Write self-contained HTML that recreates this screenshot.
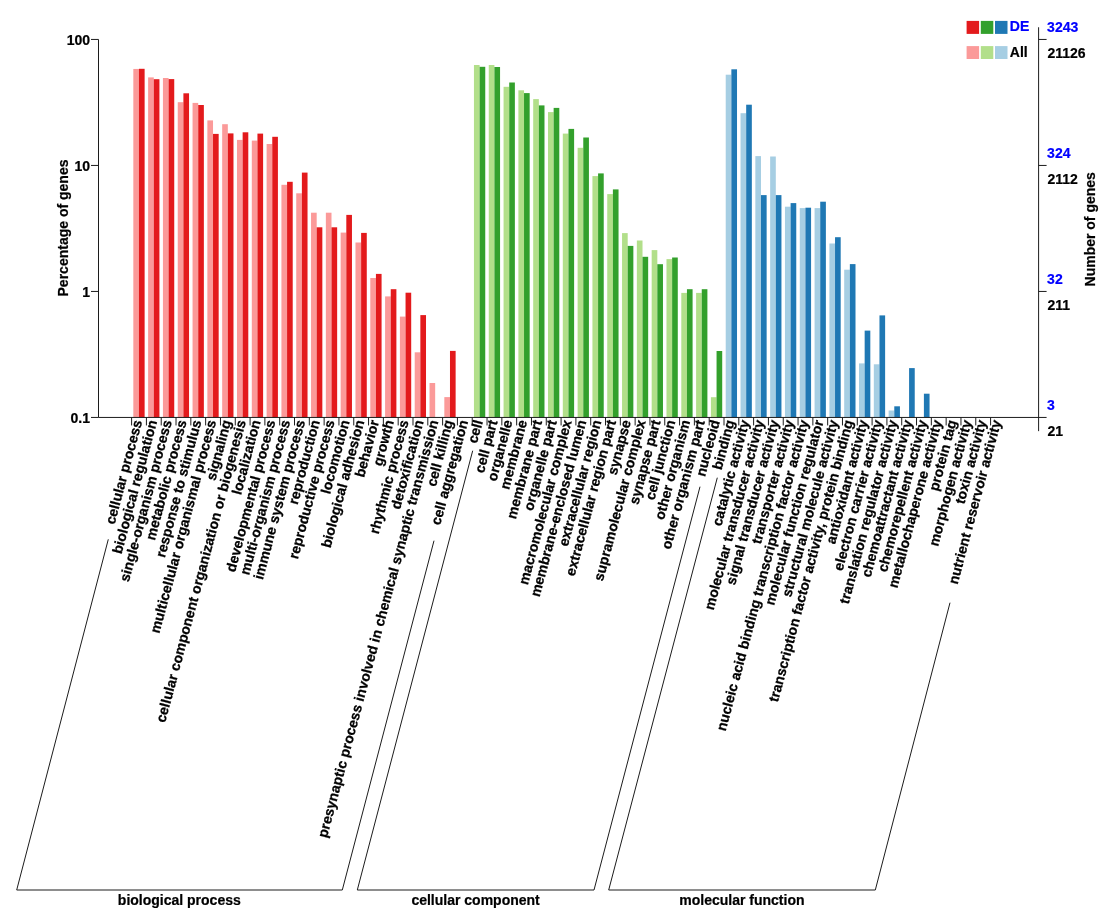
<!DOCTYPE html>
<html lang="en"><head><meta charset="utf-8"><title>GO classification</title>
<style>html,body{margin:0;padding:0;background:#fff}body{width:1109px;height:920px;overflow:hidden}svg{display:block}text{stroke:#000;stroke-width:.22px;stroke-linejoin:round}text.r{stroke-width:.28px}text.b{fill:#0000FF;stroke:#0000FF}</style>
</head><body>
<svg width="1109" height="920" viewBox="0 0 1109 920" font-family="'Liberation Sans', sans-serif" font-weight="bold" font-size="14px" style="paint-order:stroke">
<rect width="1109" height="920" fill="#fff"/>
<g shape-rendering="auto">
<rect x="133.32" y="68.95" width="5.65" height="348.50" fill="#FB9A99"/>
<rect x="138.97" y="68.80" width="5.65" height="348.65" fill="#E31A1C"/>
<rect x="148.13" y="77.40" width="5.65" height="340.05" fill="#FB9A99"/>
<rect x="153.78" y="79.20" width="5.65" height="338.25" fill="#E31A1C"/>
<rect x="162.94" y="78.00" width="5.65" height="339.45" fill="#FB9A99"/>
<rect x="168.59" y="79.10" width="5.65" height="338.35" fill="#E31A1C"/>
<rect x="177.75" y="102.20" width="5.65" height="315.25" fill="#FB9A99"/>
<rect x="183.40" y="93.30" width="5.65" height="324.15" fill="#E31A1C"/>
<rect x="192.56" y="102.90" width="5.65" height="314.55" fill="#FB9A99"/>
<rect x="198.21" y="105.00" width="5.65" height="312.45" fill="#E31A1C"/>
<rect x="207.37" y="120.40" width="5.65" height="297.05" fill="#FB9A99"/>
<rect x="213.02" y="133.90" width="5.65" height="283.55" fill="#E31A1C"/>
<rect x="222.18" y="124.20" width="5.65" height="293.25" fill="#FB9A99"/>
<rect x="227.83" y="133.40" width="5.65" height="284.05" fill="#E31A1C"/>
<rect x="236.99" y="139.90" width="5.65" height="277.55" fill="#FB9A99"/>
<rect x="242.64" y="132.30" width="5.65" height="285.15" fill="#E31A1C"/>
<rect x="251.80" y="140.60" width="5.65" height="276.85" fill="#FB9A99"/>
<rect x="257.45" y="133.60" width="5.65" height="283.85" fill="#E31A1C"/>
<rect x="266.61" y="144.00" width="5.65" height="273.45" fill="#FB9A99"/>
<rect x="272.26" y="136.80" width="5.65" height="280.65" fill="#E31A1C"/>
<rect x="281.42" y="184.80" width="5.65" height="232.65" fill="#FB9A99"/>
<rect x="287.07" y="181.80" width="5.65" height="235.65" fill="#E31A1C"/>
<rect x="296.23" y="193.30" width="5.65" height="224.15" fill="#FB9A99"/>
<rect x="301.88" y="172.60" width="5.65" height="244.85" fill="#E31A1C"/>
<rect x="311.04" y="212.70" width="5.65" height="204.75" fill="#FB9A99"/>
<rect x="316.69" y="227.30" width="5.65" height="190.15" fill="#E31A1C"/>
<rect x="325.85" y="212.70" width="5.65" height="204.75" fill="#FB9A99"/>
<rect x="331.50" y="227.30" width="5.65" height="190.15" fill="#E31A1C"/>
<rect x="340.66" y="232.60" width="5.65" height="184.85" fill="#FB9A99"/>
<rect x="346.31" y="214.90" width="5.65" height="202.55" fill="#E31A1C"/>
<rect x="355.47" y="242.50" width="5.65" height="174.95" fill="#FB9A99"/>
<rect x="361.12" y="232.90" width="5.65" height="184.55" fill="#E31A1C"/>
<rect x="370.28" y="278.00" width="5.65" height="139.45" fill="#FB9A99"/>
<rect x="375.93" y="273.90" width="5.65" height="143.55" fill="#E31A1C"/>
<rect x="385.09" y="296.40" width="5.65" height="121.05" fill="#FB9A99"/>
<rect x="390.74" y="289.20" width="5.65" height="128.25" fill="#E31A1C"/>
<rect x="399.90" y="316.60" width="5.65" height="100.85" fill="#FB9A99"/>
<rect x="405.55" y="292.70" width="5.65" height="124.75" fill="#E31A1C"/>
<rect x="414.71" y="352.30" width="5.65" height="65.15" fill="#FB9A99"/>
<rect x="420.36" y="315.10" width="5.65" height="102.35" fill="#E31A1C"/>
<rect x="429.52" y="383.00" width="5.65" height="34.45" fill="#FB9A99"/>
<rect x="444.33" y="397.10" width="5.65" height="20.35" fill="#FB9A99"/>
<rect x="449.98" y="350.90" width="5.65" height="66.55" fill="#E31A1C"/>
<rect x="473.95" y="65.00" width="5.65" height="352.45" fill="#B2DF8A"/>
<rect x="479.60" y="66.80" width="5.65" height="350.65" fill="#33A02C"/>
<rect x="488.76" y="65.00" width="5.65" height="352.45" fill="#B2DF8A"/>
<rect x="494.41" y="67.00" width="5.65" height="350.45" fill="#33A02C"/>
<rect x="503.57" y="86.80" width="5.65" height="330.65" fill="#B2DF8A"/>
<rect x="509.22" y="82.50" width="5.65" height="334.95" fill="#33A02C"/>
<rect x="518.38" y="90.30" width="5.65" height="327.15" fill="#B2DF8A"/>
<rect x="524.03" y="93.10" width="5.65" height="324.35" fill="#33A02C"/>
<rect x="533.19" y="99.10" width="5.65" height="318.35" fill="#B2DF8A"/>
<rect x="538.84" y="105.40" width="5.65" height="312.05" fill="#33A02C"/>
<rect x="548.00" y="112.10" width="5.65" height="305.35" fill="#B2DF8A"/>
<rect x="553.65" y="107.90" width="5.65" height="309.55" fill="#33A02C"/>
<rect x="562.81" y="133.60" width="5.65" height="283.85" fill="#B2DF8A"/>
<rect x="568.46" y="128.90" width="5.65" height="288.55" fill="#33A02C"/>
<rect x="577.62" y="147.80" width="5.65" height="269.65" fill="#B2DF8A"/>
<rect x="583.27" y="137.50" width="5.65" height="279.95" fill="#33A02C"/>
<rect x="592.43" y="176.10" width="5.65" height="241.35" fill="#B2DF8A"/>
<rect x="598.08" y="173.40" width="5.65" height="244.05" fill="#33A02C"/>
<rect x="607.24" y="194.10" width="5.65" height="223.35" fill="#B2DF8A"/>
<rect x="612.89" y="189.40" width="5.65" height="228.05" fill="#33A02C"/>
<rect x="622.05" y="233.10" width="5.65" height="184.35" fill="#B2DF8A"/>
<rect x="627.70" y="245.90" width="5.65" height="171.55" fill="#33A02C"/>
<rect x="636.86" y="240.50" width="5.65" height="176.95" fill="#B2DF8A"/>
<rect x="642.51" y="256.80" width="5.65" height="160.65" fill="#33A02C"/>
<rect x="651.67" y="250.10" width="5.65" height="167.35" fill="#B2DF8A"/>
<rect x="657.32" y="264.20" width="5.65" height="153.25" fill="#33A02C"/>
<rect x="666.48" y="259.10" width="5.65" height="158.35" fill="#B2DF8A"/>
<rect x="672.13" y="257.50" width="5.65" height="159.95" fill="#33A02C"/>
<rect x="681.29" y="292.90" width="5.65" height="124.55" fill="#B2DF8A"/>
<rect x="686.94" y="289.20" width="5.65" height="128.25" fill="#33A02C"/>
<rect x="696.10" y="292.90" width="5.65" height="124.55" fill="#B2DF8A"/>
<rect x="701.75" y="289.20" width="5.65" height="128.25" fill="#33A02C"/>
<rect x="710.91" y="397.20" width="5.65" height="20.25" fill="#B2DF8A"/>
<rect x="716.56" y="351.00" width="5.65" height="66.45" fill="#33A02C"/>
<rect x="725.72" y="74.70" width="5.65" height="342.75" fill="#A6CEE3"/>
<rect x="731.37" y="69.30" width="5.65" height="348.15" fill="#1F78B4"/>
<rect x="740.53" y="113.20" width="5.65" height="304.25" fill="#A6CEE3"/>
<rect x="746.18" y="104.70" width="5.65" height="312.75" fill="#1F78B4"/>
<rect x="755.34" y="156.10" width="5.65" height="261.35" fill="#A6CEE3"/>
<rect x="760.99" y="195.10" width="5.65" height="222.35" fill="#1F78B4"/>
<rect x="770.15" y="156.50" width="5.65" height="260.95" fill="#A6CEE3"/>
<rect x="775.80" y="195.10" width="5.65" height="222.35" fill="#1F78B4"/>
<rect x="784.96" y="206.70" width="5.65" height="210.75" fill="#A6CEE3"/>
<rect x="790.61" y="203.10" width="5.65" height="214.35" fill="#1F78B4"/>
<rect x="799.77" y="208.10" width="5.65" height="209.35" fill="#A6CEE3"/>
<rect x="805.42" y="207.70" width="5.65" height="209.75" fill="#1F78B4"/>
<rect x="814.58" y="208.10" width="5.65" height="209.35" fill="#A6CEE3"/>
<rect x="820.23" y="201.70" width="5.65" height="215.75" fill="#1F78B4"/>
<rect x="829.39" y="243.50" width="5.65" height="173.95" fill="#A6CEE3"/>
<rect x="835.04" y="237.20" width="5.65" height="180.25" fill="#1F78B4"/>
<rect x="844.20" y="269.70" width="5.65" height="147.75" fill="#A6CEE3"/>
<rect x="849.85" y="264.10" width="5.65" height="153.35" fill="#1F78B4"/>
<rect x="859.01" y="363.40" width="5.65" height="54.05" fill="#A6CEE3"/>
<rect x="864.66" y="330.60" width="5.65" height="86.85" fill="#1F78B4"/>
<rect x="873.82" y="364.30" width="5.65" height="53.15" fill="#A6CEE3"/>
<rect x="879.47" y="315.40" width="5.65" height="102.05" fill="#1F78B4"/>
<rect x="888.63" y="410.50" width="5.65" height="6.95" fill="#A6CEE3"/>
<rect x="894.28" y="406.30" width="5.65" height="11.15" fill="#1F78B4"/>
<rect x="909.09" y="368.10" width="5.65" height="49.35" fill="#1F78B4"/>
<rect x="923.90" y="393.70" width="5.65" height="23.75" fill="#1F78B4"/>
</g>
<g stroke="#1c1c1c" stroke-width="1" fill="none">
<path d="M91.00 39.45H98.5V417.45H1046.6"/>
<path d="M91.00 165.45H98.5"/>
<path d="M91.00 291.45H98.5"/>
<path d="M91.00 417.45H98.5"/>
<path d="M1038.6 27.25V431.15"/>
<path d="M1038.6 39.45h8"/>
<path d="M1038.6 165.45h8"/>
<path d="M1038.6 291.45h8"/>
<path d="M131.60 417.45v8M146.41 417.45v8M161.22 417.45v8M176.03 417.45v8M190.84 417.45v8M205.65 417.45v8M220.46 417.45v8M235.27 417.45v8M250.08 417.45v8M264.89 417.45v8M279.70 417.45v8M294.51 417.45v8M309.32 417.45v8M324.13 417.45v8M338.94 417.45v8M353.75 417.45v8M368.56 417.45v8M383.37 417.45v8M398.18 417.45v8M412.99 417.45v8M427.80 417.45v8M442.61 417.45v8M457.42 417.45v8M472.23 417.45v8M487.04 417.45v8M501.85 417.45v8M516.66 417.45v8M531.47 417.45v8M546.28 417.45v8M561.09 417.45v8M575.90 417.45v8M590.71 417.45v8M605.52 417.45v8M620.33 417.45v8M635.14 417.45v8M649.95 417.45v8M664.76 417.45v8M679.57 417.45v8M694.38 417.45v8M709.19 417.45v8M724.00 417.45v8M738.81 417.45v8M753.62 417.45v8M768.43 417.45v8M783.24 417.45v8M798.05 417.45v8M812.86 417.45v8M827.67 417.45v8M842.48 417.45v8M857.29 417.45v8M872.10 417.45v8M886.91 417.45v8M901.72 417.45v8M916.53 417.45v8M931.34 417.45v8M946.15 417.45v8M960.96 417.45v8M975.77 417.45v8M990.58 417.45v8" stroke-width="1"/>
</g>
<text x="90" y="45.05" text-anchor="end">100</text>
<text x="90" y="171.05" text-anchor="end">10</text>
<text x="90" y="297.05" text-anchor="end">1</text>
<text x="90" y="423.05" text-anchor="end">0.1</text>
<text x="1047.1" y="32.05" class="b">3243</text>
<text x="1047.5" y="57.65">21126</text>
<text x="1047.1" y="158.05" class="b">324</text>
<text x="1047.5" y="183.65">2112</text>
<text x="1047.1" y="284.05" class="b">32</text>
<text x="1047.5" y="309.65">211</text>
<text x="1047.1" y="410.05" class="b">3</text>
<text x="1047.5" y="435.65">21</text>
<text transform="translate(67.9,228) rotate(-90)" text-anchor="middle">Percentage of genes</text>
<text transform="translate(1094.6,229.3) rotate(-90)" text-anchor="middle">Number of genes</text>
<rect x="966.60" y="20.9" width="12.5" height="13" fill="#E31A1C"/>
<rect x="966.60" y="46.1" width="12.5" height="12.9" fill="#FB9A99"/>
<rect x="980.80" y="20.9" width="12.5" height="13" fill="#33A02C"/>
<rect x="980.80" y="46.1" width="12.5" height="12.9" fill="#B2DF8A"/>
<rect x="995.00" y="20.9" width="12.5" height="13" fill="#1F78B4"/>
<rect x="995.00" y="46.1" width="12.5" height="12.9" fill="#A6CEE3"/>
<text x="1009.8" y="30.8" class="b">DE</text>
<text x="1009.8" y="56.5">All</text>
<text transform="translate(142.30,421.35) rotate(-75.0)" text-anchor="end" letter-spacing="0.05" class="r">cellular process</text>
<text transform="translate(157.11,421.35) rotate(-75.0)" text-anchor="end" letter-spacing="0.05" class="r">biological regulation</text>
<text transform="translate(171.92,421.35) rotate(-75.0)" text-anchor="end" letter-spacing="0.05" class="r">single-organism process</text>
<text transform="translate(186.73,421.35) rotate(-75.0)" text-anchor="end" letter-spacing="0.05" class="r">metabolic process</text>
<text transform="translate(201.54,421.35) rotate(-75.0)" text-anchor="end" letter-spacing="0.05" class="r">response to stimulus</text>
<text transform="translate(216.35,421.35) rotate(-75.0)" text-anchor="end" letter-spacing="0.05" class="r">multicellular organismal process</text>
<text transform="translate(231.16,421.35) rotate(-75.0)" text-anchor="end" letter-spacing="0.05" class="r">signaling</text>
<text transform="translate(245.97,421.35) rotate(-75.0)" text-anchor="end" letter-spacing="0.05" class="r">cellular component organization or biogenesis</text>
<text transform="translate(260.78,421.35) rotate(-75.0)" text-anchor="end" letter-spacing="0.05" class="r">localization</text>
<text transform="translate(275.59,421.35) rotate(-75.0)" text-anchor="end" letter-spacing="0.05" class="r">developmental process</text>
<text transform="translate(290.40,421.35) rotate(-75.0)" text-anchor="end" letter-spacing="0.05" class="r">multi-organism process</text>
<text transform="translate(305.21,421.35) rotate(-75.0)" text-anchor="end" letter-spacing="0.05" class="r">immune system process</text>
<text transform="translate(320.02,421.35) rotate(-75.0)" text-anchor="end" letter-spacing="0.05" class="r">reproduction</text>
<text transform="translate(334.83,421.35) rotate(-75.0)" text-anchor="end" letter-spacing="0.05" class="r">reproductive process</text>
<text transform="translate(349.64,421.35) rotate(-75.0)" text-anchor="end" letter-spacing="0.05" class="r">locomotion</text>
<text transform="translate(364.45,421.35) rotate(-75.0)" text-anchor="end" letter-spacing="0.05" class="r">biological adhesion</text>
<text transform="translate(379.26,421.35) rotate(-75.0)" text-anchor="end" letter-spacing="0.05" class="r">behavior</text>
<text transform="translate(394.07,421.35) rotate(-75.0)" text-anchor="end" letter-spacing="0.05" class="r">growth</text>
<text transform="translate(408.88,421.35) rotate(-75.0)" text-anchor="end" letter-spacing="0.05" class="r">rhythmic process</text>
<text transform="translate(423.69,421.35) rotate(-75.0)" text-anchor="end" letter-spacing="0.05" class="r">detoxification</text>
<text transform="translate(438.50,421.35) rotate(-75.0)" text-anchor="end" letter-spacing="0.05" class="r">presynaptic process involved in chemical synaptic transmission</text>
<text transform="translate(453.31,421.35) rotate(-75.0)" text-anchor="end" letter-spacing="0.05" class="r">cell killing</text>
<text transform="translate(468.12,421.35) rotate(-75.0)" text-anchor="end" letter-spacing="0.05" class="r">cell aggregation</text>
<text transform="translate(482.93,421.35) rotate(-75.0)" text-anchor="end" letter-spacing="0.05" class="r">cell</text>
<text transform="translate(497.74,421.35) rotate(-75.0)" text-anchor="end" letter-spacing="0.05" class="r">cell part</text>
<text transform="translate(512.55,421.35) rotate(-75.0)" text-anchor="end" letter-spacing="0.05" class="r">organelle</text>
<text transform="translate(527.36,421.35) rotate(-75.0)" text-anchor="end" letter-spacing="0.05" class="r">membrane</text>
<text transform="translate(542.17,421.35) rotate(-75.0)" text-anchor="end" letter-spacing="0.05" class="r">membrane part</text>
<text transform="translate(556.98,421.35) rotate(-75.0)" text-anchor="end" letter-spacing="0.05" class="r">organelle part</text>
<text transform="translate(571.79,421.35) rotate(-75.0)" text-anchor="end" letter-spacing="0.05" class="r">macromolecular complex</text>
<text transform="translate(586.60,421.35) rotate(-75.0)" text-anchor="end" letter-spacing="0.05" class="r">membrane-enclosed lumen</text>
<text transform="translate(601.41,421.35) rotate(-75.0)" text-anchor="end" letter-spacing="0.05" class="r">extracellular region</text>
<text transform="translate(616.22,421.35) rotate(-75.0)" text-anchor="end" letter-spacing="0.05" class="r">extracellular region part</text>
<text transform="translate(631.03,421.35) rotate(-75.0)" text-anchor="end" letter-spacing="0.05" class="r">synapse</text>
<text transform="translate(645.84,421.35) rotate(-75.0)" text-anchor="end" letter-spacing="0.05" class="r">supramolecular complex</text>
<text transform="translate(660.65,421.35) rotate(-75.0)" text-anchor="end" letter-spacing="0.05" class="r">synapse part</text>
<text transform="translate(675.46,421.35) rotate(-75.0)" text-anchor="end" letter-spacing="0.05" class="r">cell junction</text>
<text transform="translate(690.27,421.35) rotate(-75.0)" text-anchor="end" letter-spacing="0.05" class="r">other organism</text>
<text transform="translate(705.08,421.35) rotate(-75.0)" text-anchor="end" letter-spacing="0.05" class="r">other organism part</text>
<text transform="translate(719.89,421.35) rotate(-75.0)" text-anchor="end" letter-spacing="0.05" class="r">nucleoid</text>
<text transform="translate(734.70,421.35) rotate(-75.0)" text-anchor="end" letter-spacing="0.05" class="r">binding</text>
<text transform="translate(749.51,421.35) rotate(-75.0)" text-anchor="end" letter-spacing="0.05" class="r">catalytic activity</text>
<text transform="translate(764.32,421.35) rotate(-75.0)" text-anchor="end" letter-spacing="0.05" class="r">molecular transducer activity</text>
<text transform="translate(779.13,421.35) rotate(-75.0)" text-anchor="end" letter-spacing="0.05" class="r">signal transducer activity</text>
<text transform="translate(793.94,421.35) rotate(-75.0)" text-anchor="end" letter-spacing="0.05" class="r">transporter activity</text>
<text transform="translate(808.75,421.35) rotate(-75.0)" text-anchor="end" letter-spacing="0.05" class="r">nucleic acid binding transcription factor activity</text>
<text transform="translate(823.56,421.35) rotate(-75.0)" text-anchor="end" letter-spacing="0.05" class="r">molecular function regulator</text>
<text transform="translate(838.37,421.35) rotate(-75.0)" text-anchor="end" letter-spacing="0.05" class="r">structural molecule activity</text>
<text transform="translate(853.18,421.35) rotate(-75.0)" text-anchor="end" letter-spacing="0.05" class="r">transcription factor activity, protein binding</text>
<text transform="translate(867.99,421.35) rotate(-75.0)" text-anchor="end" letter-spacing="0.05" class="r">antioxidant activity</text>
<text transform="translate(882.80,421.35) rotate(-75.0)" text-anchor="end" letter-spacing="0.05" class="r">electron carrier activity</text>
<text transform="translate(897.61,421.35) rotate(-75.0)" text-anchor="end" letter-spacing="0.05" class="r">translation regulator activity</text>
<text transform="translate(912.42,421.35) rotate(-75.0)" text-anchor="end" letter-spacing="0.05" class="r">chemoattractant activity</text>
<text transform="translate(927.23,421.35) rotate(-75.0)" text-anchor="end" letter-spacing="0.05" class="r">chemorepellent activity</text>
<text transform="translate(942.04,421.35) rotate(-75.0)" text-anchor="end" letter-spacing="0.05" class="r">metallochaperone activity</text>
<text transform="translate(956.85,421.35) rotate(-75.0)" text-anchor="end" letter-spacing="0.05" class="r">protein tag</text>
<text transform="translate(971.66,421.35) rotate(-75.0)" text-anchor="end" letter-spacing="0.05" class="r">morphogen activity</text>
<text transform="translate(986.47,421.35) rotate(-75.0)" text-anchor="end" letter-spacing="0.05" class="r">toxin activity</text>
<text transform="translate(1001.28,421.35) rotate(-75.0)" text-anchor="end" letter-spacing="0.05" class="r">nutrient reservoir activity</text>
<g stroke="#1c1c1c" stroke-width="1" fill="none">
<path d="M108.3 539.3L16.7 890H342.3L434 540.7"/>
<path d="M472.7 450.7L357.3 890H594L700 486.7"/>
<path d="M717.3 477.7L608.7 890H875.3L950 602.7"/>
</g>
<text x="179.3" y="905.3" text-anchor="middle">biological process</text>
<text x="475.6" y="905.3" text-anchor="middle">cellular component</text>
<text x="741.9" y="905.3" text-anchor="middle">molecular function</text>
</svg>
</body></html>
